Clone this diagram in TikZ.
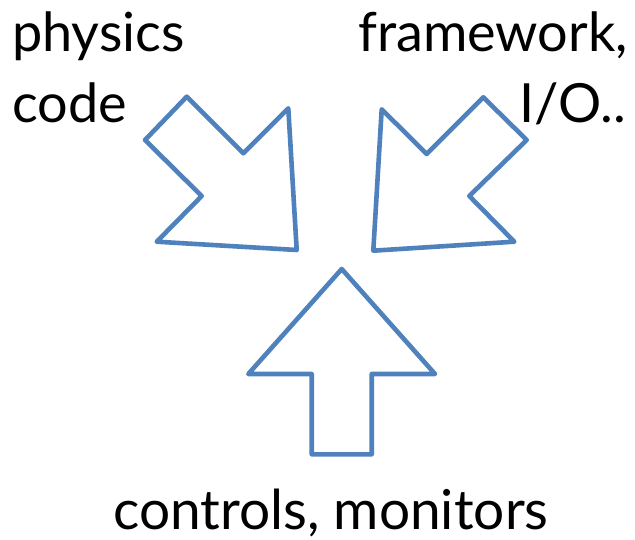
\documentclass[tikz,border=0pt]{standalone}
\usepackage{fontspec}
\setmainfont{Lato}
\definecolor{arrowblue}{HTML}{4F81BD}
\begin{document}
\begin{tikzpicture}[x=1pt,y=-1pt,
  bigarrow/.style={draw=arrowblue,line width=4.6pt,line join=round,fill=white},
  lbl/.style={font=\fontsize{54}{60}\selectfont,inner sep=0pt,text=black}]
\useasboundingbox (0,0) rectangle (635,540);
% left arrow (down-right)
\draw[bigarrow] (186.7,96.7) -- (243.3,153.3) -- (288.3,108.3) -- (296.7,250)
  -- (156.7,241.7) -- (201.7,196) -- (145,140) -- cycle;
% right arrow (down-left)
\draw[bigarrow] (483.3,97.3) -- (426.7,154) -- (381.7,109.3) -- (373.3,250.7)
  -- (514.3,241.7) -- (469.3,196) -- (526.7,140) -- cycle;
% bottom arrow (up)
\draw[bigarrow] (341.7,269) -- (435,374) -- (371.7,374) -- (371.7,454.3)
  -- (311.7,454.3) -- (311.7,374) -- (248.3,374) -- cycle;
% labels
\node[lbl,anchor=base west] (phys) at (12,52) {physics};
\node[lbl,anchor=base west] (code) at (12,123) {code};
\node[lbl,anchor=base east] (fw) at (628,52) {framework,};
\node[lbl,anchor=base east] (io) at (626,123) {I/O..};
\node[lbl,anchor=base,font=\fontsize{55}{60}\selectfont] (ctrl) at (331,529) {controls, monitors};
\end{tikzpicture}
\end{document}
